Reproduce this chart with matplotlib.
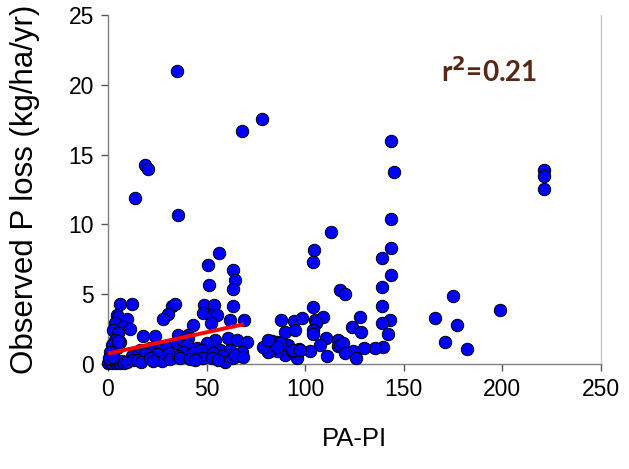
import numpy as np
import matplotlib.pyplot as plt

# PA-PI vs observed P loss
pa_pi = [
    35.1, 68.1, 78.1, 18.8, 20.4, 13.7, 35.7, 56.5, 50.8, 63.2, 64.6, 51.1, 63.4, 63.5, 69.0,
    143.4, 145.0, 143.4, 113.1, 104.6, 104.0, 143.4, 139.1, 143.4, 139.0, 138.8, 143.2, 139.0,
    141.8, 139.5, 135.4,
    221.1, 221.1, 221.1, 174.8, 165.7, 176.8, 171.1, 181.9, 198.8,
    117.6, 120.0, 104.1, 87.9, 94.3, 98.3, 105.0, 109.0, 105.5, 127.8, 123.6, 128.5, 89.7,
    95.0, 103.8, 104.1, 110.7, 116.7, 107.5, 116.8, 117.6, 119.3, 129.6, 124.2, 120.2, 125.9,
    111.2, 102.4, 95.7, 89.7, 93.3, 96.8, 85.5, 82.2, 83.0, 85.5, 91.3, 87.2, 81.3, 85.5,
    94.0, 97.4, 78.8, 81.3,
    6.1, 12.0, 32.3, 34.0, 48.5, 53.8, 4.4, 5.2, 9.5, 30.6, 28.0, 48.3, 53.4, 55.1, 61.9,
    52.1, 42.9, 3.5, 7.8, 11.2, 2.7, 5.2, 17.9, 23.8, 35.7, 40.7, 3.5, 6.1, 1.9, 4.4, 1.0, 5.2,
    16.2, 21.3, 26.4, 29.8, 34.8, 38.2, 40.7, 61.0, 65.3, 70.3, 54.3, 50.1, 44.9, 39.9, 56.8,
    61.9, 67.8, 38.2, 43.3, 53.4, 47.0, 25.0, 31.0, 12.0, 19.0, 58.0,
    0.2, 1.0, 2.0, 3.0, 4.0, 5.0, 6.0, 7.0, 8.0, 9.5, 0.5, 2.5, 12.8, 14.5, 16.5, 21.3, 27.2,
    31.4, 35.7, 36.5, 41.6, 47.5, 48.3, 52.6, 59.3, 63.5, 64.4, 68.5, 23.0, 44.0, 56.0,
]
p_loss = [
    21.0, 16.7, 17.55, 14.25, 14.0, 11.9, 10.65, 7.97, 7.07, 6.7, 6.0, 5.63, 5.39, 4.12, 3.16,
    15.95, 13.75, 10.37, 9.48, 8.19, 7.28, 8.33, 7.59, 6.37, 5.5, 4.17, 3.15, 2.95,
    2.15, 1.24, 1.13,
    13.9, 13.46, 12.5, 4.84, 3.26, 2.78, 1.56, 1.06, 3.88,
    5.27, 5.0, 4.1, 3.18, 3.06, 3.28, 3.17, 3.39, 2.92, 3.37, 2.68, 2.32, 2.32,
    2.44, 2.44, 2.16, 1.83, 1.72, 1.38, 1.3, 1.36, 1.49, 1.12, 0.9, 0.76, 0.41,
    0.54, 0.9, 0.41, 0.65, 0.93, 1.06, 0.93, 0.93, 1.65, 1.6, 1.36, 1.53, 0.88, 1.24,
    1.0, 1.0, 1.24, 1.72,
    4.31, 4.31, 4.19, 4.29, 4.24, 4.24, 3.52, 3.4, 3.25, 3.57, 3.23, 3.64, 3.52, 3.52, 3.13,
    2.92, 2.8, 2.92, 2.68, 2.49, 2.44, 2.2, 2.0, 2.04, 2.08, 2.1, 1.72, 1.6, 1.36, 1.13, 0.88, 1.67,
    1.0, 1.13, 1.0, 1.24, 1.49, 1.72, 1.85, 1.85, 1.72, 1.6, 1.72, 1.49, 1.13, 1.36, 1.0,
    1.0, 0.88, 0.88, 0.77, 0.77, 1.0, 0.7, 0.8, 0.6, 0.75, 0.6,
    0.1, 0.15, 0.05, 0.2, 0.1, 0.15, 0.05, 0.2, 0.1, 0.15, 0.4, 0.5, 0.29, 0.29, 0.17, 0.41, 0.25,
    0.35, 0.6, 0.45, 0.35, 0.45, 0.41, 0.41, 0.17, 0.41, 0.65, 0.5, 0.2, 0.3, 0.3,
]

# regression line shown on the chart
fit_range = [0, 68]
fit_intercept = 0.75
fit_slope = 0.0304
r2_label = "r$^\\mathbf{2}$=0.21"

x_ticks = [0, 50, 100, 150, 200, 250]
y_ticks = [0, 5, 10, 15, 20, 25]

plt.rcParams['font.family'] = ['Liberation Sans', 'DejaVu Sans']

fig = plt.figure(figsize=(6.29, 4.69), dpi=100)
ax = fig.add_axes([0.1717, 0.2239, 0.7838, 0.7441])

ax.scatter(pa_pi, p_loss, s=80, c='#0000ff', edgecolors='black', linewidths=0.7,
           zorder=3, clip_on=False)

fx = np.array(fit_range, dtype=float)
ax.plot(fx, fit_intercept + fit_slope * fx, color='#ff0000', lw=2.8, zorder=4)

ax.text(193, 20.9, r2_label, color='#5a2616', fontsize=20, fontweight='bold',
        ha='center', va='center', family=['Lato', 'DejaVu Sans'])

ax.set_xlim(0, 250)
ax.set_ylim(0, 25)
ax.set_xticks(x_ticks)
ax.set_yticks(y_ticks)
ax.tick_params(direction='out', length=5, width=1, color='#555555', labelsize=16.5, pad=5)

ax.spines['top'].set_visible(False)
for side in ['left', 'bottom', 'right']:
    ax.spines[side].set_color('#808080')
    ax.spines[side].set_linewidth(1)
ax.spines['right'].set_color('#c8c8c8')

ax.set_xlabel('PA-PI', fontsize=18.5)
ax.set_ylabel('Observed P loss (kg/ha/yr)', fontsize=22.5)
ax.xaxis.set_label_coords(0.50, -0.18)
ax.yaxis.set_label_coords(-0.138, 0.5)

fig.savefig('out.png', dpi=100)
